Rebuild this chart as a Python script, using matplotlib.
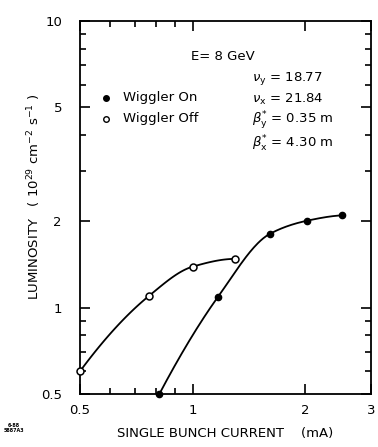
import numpy as np
import matplotlib
matplotlib.use("Agg")
import matplotlib.pyplot as plt
from matplotlib.ticker import FixedLocator, NullFormatter, FixedFormatter

plt.rcParams['font.family'] = ['DejaVu Sans']
plt.rcParams['mathtext.fontset'] = 'dejavusans'

# Data
off_current = [0.50, 0.765, 1.00, 1.30]
off_lumi = [0.60, 1.10, 1.39, 1.48]
on_current = [0.815, 1.167, 1.61, 2.02, 2.51]
on_lumi = [0.50, 1.087, 1.81, 2.01, 2.10]

x_major = [0.5, 1, 2, 3]
x_major_labels = ["0.5", "1", "2", "3"]
x_minor = [0.6, 0.7, 0.8, 0.9]
y_major = [0.5, 1, 2, 5, 10]
y_major_labels = ["0.5", "1", "2", "5", "10"]
y_minor = [0.6, 0.7, 0.8, 0.9, 3, 4, 6, 7, 8, 9]


def smooth(xs, ys, n=40):
    """Monotone cubic (PCHIP) curve through the points in log-log space (drawing only)."""
    lx = np.log10(xs)
    ly = np.log10(ys)
    h = np.diff(lx)
    d = np.diff(ly) / h
    m = len(lx)
    k = np.zeros(m)
    for i in range(1, m - 1):
        if d[i - 1] * d[i] <= 0:
            k[i] = 0
        else:
            w1 = 2 * h[i] + h[i - 1]
            w2 = h[i] + 2 * h[i - 1]
            k[i] = (w1 + w2) / (w1 / d[i - 1] + w2 / d[i])
    k[0] = ((2 * h[0] + h[1]) * d[0] - h[0] * d[1]) / (h[0] + h[1]) if m > 2 else d[0]
    if np.sign(k[0]) != np.sign(d[0]):
        k[0] = 0
    k[-1] = ((2 * h[-1] + h[-2]) * d[-1] - h[-1] * d[-2]) / (h[-1] + h[-2]) if m > 2 else d[-1]
    if np.sign(k[-1]) != np.sign(d[-1]):
        k[-1] = 0
    outx, outy = [], []
    for i in range(m - 1):
        t = np.linspace(0, 1, n)
        h00 = 2 * t**3 - 3 * t**2 + 1
        h10 = t**3 - 2 * t**2 + t
        h01 = -2 * t**3 + 3 * t**2
        h11 = t**3 - t**2
        px = lx[i] + t * h[i]
        py = h00 * ly[i] + h10 * h[i] * k[i] + h01 * ly[i + 1] + h11 * h[i] * k[i + 1]
        outx.extend(px)
        outy.extend(py)
    return 10 ** np.array(outx), 10 ** np.array(outy)


fig = plt.figure(figsize=(3.78, 4.47), dpi=100)
ax = fig.add_axes([80 / 378, 1 - 394 / 447, 291 / 378, 373 / 447])
ax.set_xscale('log')
ax.set_yscale('log')
ax.set_xlim(0.5, 3)
ax.set_ylim(0.5, 10)

lw = 1.3
sx, sy = smooth(off_current, off_lumi)
ax.plot(sx, sy, color='black', lw=lw, clip_on=False)
sx, sy = smooth(on_current, on_lumi)
ax.plot(sx, sy, color='black', lw=lw, clip_on=False)
ax.plot(off_current, off_lumi, 'o', ms=5, mfc='white', mec='black', mew=1.1,
        clip_on=False, zorder=5)
ax.plot(on_current, on_lumi, 'o', ms=4.5, mfc='black', mec='black',
        clip_on=False, zorder=5)

ax.xaxis.set_major_locator(FixedLocator(x_major))
ax.xaxis.set_major_formatter(FixedFormatter(x_major_labels))
ax.xaxis.set_minor_locator(FixedLocator(x_minor))
ax.xaxis.set_minor_formatter(NullFormatter())
ax.yaxis.set_major_locator(FixedLocator(y_major))
ax.yaxis.set_major_formatter(FixedFormatter(y_major_labels))
ax.yaxis.set_minor_locator(FixedLocator(y_minor))
ax.yaxis.set_minor_formatter(NullFormatter())

ax.tick_params(which='both', direction='in', top=True, right=True,
               width=1.2, labelsize=9.5)
ax.tick_params(which='major', length=7)
ax.tick_params(which='minor', length=4.5)
ax.tick_params(axis='x', pad=7)
ax.tick_params(axis='y', pad=13)
for s in ax.spines.values():
    s.set_linewidth(1.3)


def ax_frac(px, py):
    return (px - 80) / 291, (394 - py) / 373


fs = 9.5
x, y = ax_frac(223, 57)
ax.text(x, y, "E= 8 GeV", transform=ax.transAxes, ha='center', va='center', fontsize=fs)
for py, s in [(79, r"$\nu_{\rm y}$ = 18.77"), (99, r"$\nu_{\rm x}$ = 21.84"),
              (120, r"$\beta^{*}_{\rm y}$ = 0.35 m"), (144, r"$\beta^{*}_{\rm x}$ = 4.30 m")]:
    x, y = ax_frac(252, py)
    ax.text(x, y, s, transform=ax.transAxes, ha='left', va='center', fontsize=fs)

x, y = ax_frac(106, 98)
ax.plot([x], [y], 'o', ms=4, mfc='black', mec='black', transform=ax.transAxes, clip_on=False)
x, y = ax_frac(123, 98)
ax.text(x, y, "Wiggler On", transform=ax.transAxes, ha='left', va='center', fontsize=fs)
x, y = ax_frac(106, 119)
ax.plot([x], [y], 'o', ms=4, mfc='white', mec='black', mew=1.0, transform=ax.transAxes, clip_on=False)
x, y = ax_frac(123, 119)
ax.text(x, y, "Wiggler Off", transform=ax.transAxes, ha='left', va='center', fontsize=fs)

fig.text(225 / 378, 1 - 433 / 447, "SINGLE BUNCH CURRENT    (mA)", ha='center', va='center',
         fontsize=fs)
fig.text(34 / 378, 1 - 197 / 447,
         r"LUMINOSITY   ( 10$^{29}$ cm$^{-2}$ s$^{-1}$ )", rotation=90,
         ha='center', va='center', fontsize=fs)
fig.text(14 / 378, 1 - 428 / 447, "6-88\n5887A3", ha='center', va='center',
         fontsize=3.5, fontweight='bold', linespacing=1.0)

fig.savefig("out.png", dpi=100, facecolor='white')
